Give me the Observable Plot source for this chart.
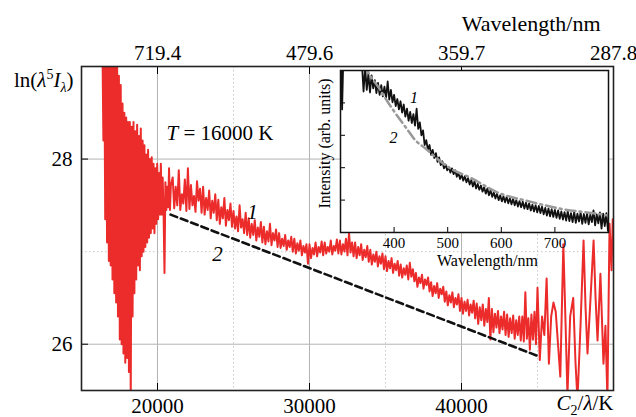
<!DOCTYPE html>
<html><head><meta charset="utf-8">
<script src="https://cdn.jsdelivr.net/npm/d3@7"></script>
<script src="https://cdn.jsdelivr.net/npm/@observablehq/plot@0.6"></script>
<style>
body{margin:0;background:#fff;}
#wrap{position:relative;width:636px;height:417px;overflow:hidden;background:#fff;}
#wrap svg, #wrap svg text, #wrap svg tspan{font-family:"Liberation Serif","Times New Roman","DejaVu Serif",serif !important;}
</style></head><body><div id="wrap"></div>
<script>
// ---------- main panel data ----------
const majorC2 = [20000, 30000, 40000];
const minorC2 = [25000, 35000, 45000];
const majorLn = [26, 28];
const minorLn = [27];
const wavelengthTickC2 = [20000, 30000, 40000, 50000];
const wavelengthTickLabels = ["719.4", "479.6", "359.7", "287.8"];

// curve 1: measured spectrum, ln(lambda^5 I) vs C2/lambda
const redC2 = [
  16380,16440,16500,16560,16620,16680,16740,16800,16860,16920,
  16980,17040,17100,17160,17220,17280,17340,17400,17460,17520,
  17580,17640,17700,17760,17820,17880,17940,18000,18060,18120,
  18180,18240,18300,18360,18420,18480,18540,18600,18660,18720,
  18780,18840,18900,18960,19020,19080,19140,19200,19260,19320,
  19380,19440,19500,19560,19620,19680,19740,19800,19860,19920,
  19980,20040,20100,20160,20220,20280,20340,20400,20460,20520,
  20580,20640,20700,20760,20820,20880,
  21000,21100,21200,21300,21400,21500,21600,21700,21800,21900,
  22000,22100,22200,22300,22400,22500,22600,22700,22800,22900,
  23000,23100,23200,23300,23400,23500,23600,23700,23800,23900,
  24000,24100,24200,24300,24400,24500,24600,24700,24800,24900,
  25000,25100,25200,25300,25400,25500,25600,25700,25800,25900,
  26000,26100,26200,26300,26400,26500,26600,26700,26800,26900,
  27000,27100,27200,27300,27400,27500,27600,27700,27800,27900,
  28000,28100,28200,28300,28400,28500,28600,28700,28800,28900,
  29000,29100,29200,29300,29400,29500,29600,29700,29800,29900,
  30000,30100,30200,30300,30400,30500,30600,30700,30800,30900,
  31000,31100,31200,31300,31400,31500,31600,31700,31800,31900,
  32000,32100,32200,32300,32400,32500,32600,32700,32800,32900,
  33000,33100,33200,33300,33400,33500,33600,33700,33800,33900,
  34000,34100,34200,34300,34400,34500,34600,34700,34800,34900,
  35000,35100,35200,35300,35400,35500,35600,35700,35800,35900,
  36000,36100,36200,36300,36400,36500,36600,36700,36800,36900,
  37000,37100,37200,37300,37400,37500,37600,37700,37800,37900,
  38000,38100,38200,38300,38400,38500,38600,38700,38800,38900,
  39000,39100,39200,39300,39400,39500,39600,39700,39800,39900,
  40000,40100,40200,40300,40400,40500,40600,40700,40800,40900,
  41000,41100,41200,41300,41400,41500,41600,41700,41800,41900,
  42000,42100,42200,42300,42400,42500,42600,42700,42800,42900,
  43000,43100,43200,43300,43400,43500,43600,43700,43800,43900,
  44000,44100,44200,44300,44400,44500,44600,44700,44800,44900,
  45000,
  45150,45300,45450,45600,45750,45900,46050,46200,46350,46500,
  46700,46850,46970,47150,47350,47500,47630,47830,48030,48160,
  48290,48490,48690,48820,48950,49140,49340,49470,49600,49740,
  49870,49950
];
const redLn = [
  29.2,28.2,29.2,27.35,29.2,27.1,29.2,26.9,29.2,26.85,
  29.2,26.7,29.2,26.55,29.1,26.45,29.2,26.3,28.9,26.05,
  28.8,26.0,28.6,25.9,28.5,25.8,28.45,25.85,28.4,25.7,
  28.4,25.4,28.35,26.3,28.4,26.55,28.3,26.7,28.37,26.85,
  28.25,26.8,28.33,26.95,28.2,27.0,28.15,27.05,28.05,27.1,
  28.1,27.15,28.0,27.2,28.02,27.25,27.95,27.2,27.9,27.3,
  27.95,27.35,27.85,27.4,27.95,27.4,27.8,27.42,26.77,27.75,
  27.45,27.7,27.48,27.9,27.45,27.72,
  27.8,27.47,27.7,27.5,27.88,27.45,27.62,27.52,27.78,27.44,
  27.9,27.46,27.72,27.5,27.6,27.43,27.76,27.55,27.68,27.42,
  27.7,27.4,27.58,27.45,27.66,27.36,27.55,27.42,27.62,27.34,
  27.56,27.3,27.48,27.36,27.58,27.28,27.45,27.34,27.52,27.27,
  27.44,27.25,27.38,27.22,27.5,27.26,27.35,27.2,27.42,27.18,
  27.36,27.15,27.3,27.18,27.34,27.12,27.26,27.16,27.32,27.1,
  27.27,27.08,27.22,27.11,27.3,27.07,27.2,27.12,27.24,27.05,
  27.2,27.04,27.14,27.06,27.18,27.02,27.12,27.05,27.16,27.0,
  27.14,26.98,27.09,27.01,27.12,26.96,27.06,26.99,27.08,26.87,
  27.08,26.93,27.04,26.97,27.1,26.95,27.05,26.99,27.11,26.96,
  27.1,26.98,27.05,27.0,27.12,26.97,27.06,27.01,27.13,26.98,
  27.12,26.97,27.08,27.0,27.14,26.96,27.2,26.99,27.1,26.95,
  27.1,26.93,27.05,26.96,27.08,26.91,27.02,26.94,27.06,26.89,
  27.02,26.86,26.97,26.89,27.0,26.84,26.95,26.87,26.98,26.81,
  26.95,26.79,26.9,26.82,26.93,26.77,26.87,26.8,26.9,26.74,
  26.86,26.72,26.82,26.75,26.85,26.7,26.88,26.73,26.81,26.68,
  26.77,26.62,26.72,26.66,26.75,26.6,26.7,26.64,26.72,26.57,
  26.67,26.52,26.63,26.55,26.66,26.5,26.6,26.54,26.62,26.46,
  26.57,26.42,26.53,26.45,26.56,26.4,26.5,26.43,26.54,26.36,
  26.5,26.33,26.46,26.36,26.48,26.31,26.43,26.34,26.47,26.28,
  26.44,26.22,26.4,26.26,26.43,26.2,26.38,26.24,26.5,26.05,
  26.38,26.13,26.33,26.18,26.36,26.12,26.3,26.16,26.35,26.1,
  26.32,26.08,26.28,26.12,26.31,26.06,26.26,26.1,26.3,26.04,
  26.3,26.03,26.56,26.06,26.28,25.94,26.32,26.05,26.35,26.0,
  26.61,
  25.83,26.3,26.1,26.71,25.79,26.3,26.45,26.35,26.0,25.65,
  27.08,26.2,25.45,26.3,26.5,25.8,25.4,26.2,27.12,26.4,
  25.9,26.5,27.12,26.5,26.04,26.76,25.79,26.2,25.4,27.3,
  26.8,27.35
];

// curve 2: Wien fit, T = 16000 K
const modelC2 = [20860, 45070];
const modelLn = [27.40, 25.87];

const tempLabel = ["T = 16000 K"];
const tempLabelC2 = [20590];
const tempLabelLn = [28.28];
const curveNames = ["1", "2"];
const curveLabelC2 = [26250, 23950];
const curveLabelLn = [27.42, 26.97];

const yTitle = ["ln(λ5Iλ)"];
const xTitle = ["C2/λ/K"];
const topTitle = ["Wavelength/nm"];

// ---------- inset data ----------
const insetNmTicks = [400, 500, 600, 700];
const insetITicks = [1, 2, 3, 4];
const insetXTitle = ["Wavelength/nm"];
const insetYTitle = ["Intensity (arb. units)"];
const blackNm = [
  301,303,305,
  340,343,346,349,352,355,358,361,364,367,
  370,373,376,379,382,385,388,391,394,397,
  400,403,406,409,412,415,418,421,424,427,
  430,433,436,439,442,445,448,451,454,457,
  460,463,466,469,472,475,478,481,484,487,
  490,493,496,499,502,505,508,511,514,517,
  520,523,526,529,532,535,538,541,544,547,
  550,553,556,559,562,565,568,571,574,577,
  580,583,586,589,592,595,598,601,604,607,
  610,613,616,619,622,625,628,631,634,637,
  640,643,646,649,652,655,658,661,664,667,
  670,673,676,679,682,685,688,691,694,697,
  700,703,706,709,712,715,718,721,724,727,
  730,733,736,739,742,745,748,751,754,757,
  760,763,766,769,772,775,778,781,784,787,
  790,793,796,799
];
const blackI = [
  5.2,3.8,5.2,
  5.2,4.35,5.1,4.4,4.9,4.32,4.85,4.45,4.7,4.3,
  4.62,4.25,4.55,4.2,4.5,4.15,4.66,4.1,4.4,4.02,
  4.25,3.9,4.12,3.8,4.05,3.7,3.95,3.58,3.82,3.45,
  3.72,3.38,3.65,3.3,3.82,3.2,3.4,3.0,3.15,2.7,
  2.85,2.55,2.7,2.4,2.55,2.3,2.45,2.18,2.32,2.08,
  2.2,1.98,2.1,1.92,2.02,1.85,1.98,1.8,1.92,1.72,
  1.84,1.65,1.78,1.6,1.74,1.55,1.68,1.48,1.62,1.42,
  1.58,1.36,1.5,1.32,1.45,1.26,1.4,1.2,1.36,1.15,
  1.3,1.1,1.24,1.05,1.2,1.0,1.15,0.96,1.12,0.93,
  1.1,0.9,1.06,0.87,1.04,0.84,1.0,0.8,0.97,0.78,
  0.95,0.74,0.92,0.72,0.9,0.68,0.86,0.65,0.84,0.62,
  0.82,0.6,0.8,0.56,0.76,0.52,0.74,0.5,0.72,0.48,
  0.7,0.45,0.68,0.42,0.65,0.4,0.63,0.37,0.66,0.35,
  0.6,0.32,0.64,0.3,0.58,0.34,0.62,0.27,0.57,0.3,
  0.6,0.25,0.55,0.32,0.68,0.22,0.56,0.28,0.62,0.12,
  0.58,0.2,0.6,0.05
];
const grayNm = [345, 352, 371, 390, 403, 422, 440, 459, 478, 502, 545, 594, 652, 718, 787, 800];
const grayI  = [5.2, 4.94, 4.48, 3.98, 3.67, 3.24, 2.84, 2.59, 2.31, 2.01, 1.67, 1.23, 0.96, 0.71, 0.56, 0.52];
const insetNames = ["1", "2"];
const insetLabelNm = [437, 399];
const insetLabelI = [4.17, 2.93];

const serifStack = "Liberation Serif, Times New Roman, DejaVu Serif, serif";
const redIdx = d3.range(redC2.length);
const modelIdx = d3.range(modelC2.length);

const main = Plot.plot({
  width: 636, height: 417,
  marginLeft: 81, marginRight: 23, marginTop: 66, marginBottom: 27,
  style: {fontFamily: serifStack, fontSize: "21px", background: "white", color: "black"},
  x: {domain: [15000, 50000]},
  y: {domain: [25.5, 29]},
  marks: [
    Plot.gridX(minorC2, {stroke: "#c8c8c8", strokeOpacity: 1, strokeDasharray: "1.5,2.5"}),
    Plot.gridY(minorLn, {stroke: "#c8c8c8", strokeOpacity: 1, strokeDasharray: "1.5,2.5"}),
    Plot.gridX(majorC2, {stroke: "#b4b4b4", strokeOpacity: 1}),
    Plot.gridY(majorLn, {stroke: "#b4b4b4", strokeOpacity: 1}),
    Plot.line(redIdx, {x: i => redC2[i], y: i => redLn[i], stroke: "#ec2b2b", strokeWidth: 2, clip: true}),
    Plot.line(modelIdx, {x: i => modelC2[i], y: i => modelLn[i], stroke: "#111", strokeWidth: 2.6, strokeDasharray: "7,4"}),
    Plot.text(tempLabel, {x: tempLabelC2, y: tempLabelLn, text: d => d, textAnchor: "start", fontSize: 21}),
    Plot.text(curveNames, {x: curveLabelC2, y: curveLabelLn, text: d => d, fontStyle: "italic", fontSize: 21}),
    Plot.axisX(majorC2, {anchor: "bottom", tickSize: -7, tickPadding: 15, tickFormat: "d", label: null, fontSize: 21}),
    Plot.axisX(wavelengthTickC2, {anchor: "top", tickSize: -7, tickPadding: 14, label: null, fontSize: 21,
      tickFormat: d => wavelengthTickLabels[wavelengthTickC2.indexOf(d)]}),
    Plot.axisY(majorLn, {anchor: "left", tickSize: -7, tickPadding: 16, tickFormat: "d", label: null, fontSize: 21}),
    Plot.text(yTitle, {frameAnchor: "top-left", textAnchor: "end", lineAnchor: "middle", dx: -8, dy: 14, text: d => d, fontSize: 21}),
    Plot.text(xTitle, {frameAnchor: "bottom-right", textAnchor: "end", lineAnchor: "middle", dx: 0, dy: 13, text: d => d, fontSize: 21}),
    Plot.text(topTitle, {frameAnchor: "top-right", textAnchor: "end", lineAnchor: "middle", dx: -13, dy: -43, text: d => d, fontSize: 22}),
    Plot.frame({stroke: "#222", strokeWidth: 1.6})
  ]
});

const inset = Plot.plot({
  width: 316, height: 232,
  marginLeft: 40, marginRight: 8, marginTop: 30, marginBottom: 40,
  style: {fontFamily: serifStack, fontSize: "16px", background: "transparent", color: "black"},
  x: {domain: [300, 800]},
  y: {domain: [0, 5]},
  marks: [
    Plot.frame({fill: "white", stroke: "none"}),
    Plot.line(d3.range(blackNm.length), {x: i => blackNm[i], y: i => blackI[i], stroke: "#111", strokeWidth: 1.8, clip: true}),
    Plot.line(d3.range(grayNm.length), {x: i => grayNm[i], y: i => grayI[i], stroke: "#999", strokeWidth: 2.5, strokeDasharray: "10,4,2,4", curve: "monotone-x", clip: true}),
    Plot.text(insetNames, {x: insetLabelNm, y: insetLabelI, text: d => d, fontStyle: "italic", fontSize: 16}),
    Plot.axisX(insetNmTicks, {anchor: "bottom", tickSize: -5, tickPadding: 10, tickFormat: "d", label: null, fontSize: 15}),
    Plot.axisY(insetITicks, {anchor: "left", tickSize: -5, tickFormat: () => "", label: null}),
    Plot.text(insetXTitle, {frameAnchor: "bottom", lineAnchor: "middle", dx: 13, dy: 28.5, text: d => d, fontSize: 16}),
    Plot.text(insetYTitle, {frameAnchor: "left", textAnchor: "middle", lineAnchor: "middle", rotate: -90, dx: -16, dy: -8, text: d => d, fontSize: 16}),
    Plot.frame({stroke: "#111", strokeWidth: 1.5})
  ]
});

function rich(svg, label, parts) {
  const t = d3.select(svg).selectAll("text").filter(function() { return this.textContent === label; });
  if (t.empty()) return;
  t.text(null);
  let shift = 0;
  for (const p of parts) {
    const s = t.append("tspan").text(p.t);
    if (p.i) s.attr("font-style", "italic");
    const target = p.dy || 0;
    if (target !== shift) { s.attr("dy", target - shift); shift = target; }
    if (p.s) s.attr("font-size", p.s);
  }
}
rich(main, yTitle[0], [{t: "ln("}, {t: "λ", i: 1}, {t: "5", dy: -8, s: "14px"}, {t: "I", i: 1}, {t: "λ", i: 1, dy: 5, s: "14px"}, {t: ")"}]);
rich(main, xTitle[0], [{t: "C", i: 1}, {t: "2", dy: 5, s: "14px"}, {t: "/"}, {t: "λ", i: 1}, {t: "/K"}]);
rich(main, tempLabel[0], [{t: "T", i: 1}, {t: " = 16000 K"}]);

// serif typeface as presentation attributes too
for (const svg of [main, inset]) {
  svg.setAttribute("font-family", serifStack);
  d3.select(svg).selectAll("text").attr("font-family", serifStack);
}

const wrap = document.getElementById("wrap");
wrap.appendChild(main);
inset.style.position = "absolute";
inset.style.left = "300px";
inset.style.top = "40px";
wrap.appendChild(inset);
</script></body></html>
